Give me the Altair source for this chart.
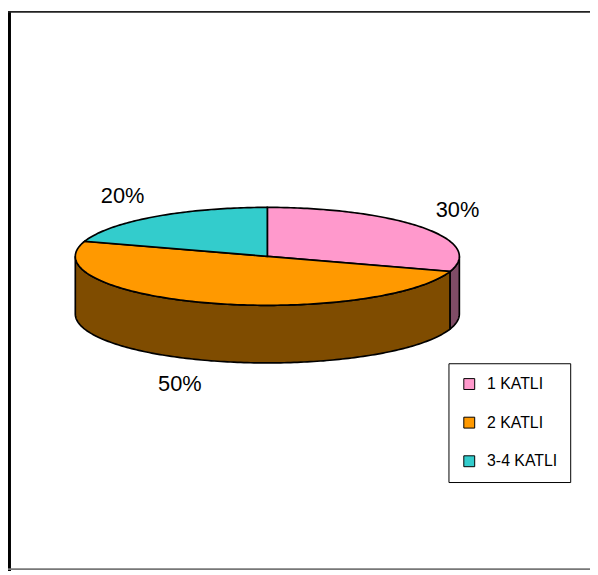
import numpy as np
import pandas as pd
import altair as alt

# ---- data ----
categories = ["1 KATLI", "2 KATLI", "3-4 KATLI"]
shares = [30, 50, 20]
pct_labels = ["30%", "50%", "20%"]

# ---- styling ----
top_colors = ["#FF99CC", "#FF9900", "#33CCCC"]
side_colors = ["#804C66", "#7F4C00", "#1A6666"]

RY = 0.255      # vertical squash of the pie top (rx = 1)
DEPTH = 0.30    # thickness of the pie
STEP = 1.0      # degrees per polygon vertex

W, H = 588, 566
PX = 194        # pixels per unit radius
XD = [-262 / PX, -262 / PX + W / PX]
YD = [248 / PX - H / PX, 248 / PX]

# ---- geometry built from the shares ----
top_rows, side_rows, lab_rows = [], [], []
cum = 0.0
for cat, s, lab, sc in zip(categories, shares, pct_labels, side_colors):
    t0 = cum / 100 * 360
    t1 = (cum + s) / 100 * 360
    cum += s
    # top sector
    i = 0
    top_rows.append(dict(cat=cat, x=0.0, y=0.0, i=i))
    for t in np.arange(t0, t1 + 1e-9, STEP):
        i += 1
        r = np.radians(t)
        top_rows.append(dict(cat=cat, x=np.sin(r), y=np.cos(r) * RY, i=i))
    # visible front wall
    a, b = max(t0, 90.0), min(t1, 270.0)
    if a < b:
        ts = np.arange(a, b + 1e-9, STEP)
        j = 0
        for t in ts:
            r = np.radians(t)
            side_rows.append(dict(cat=cat, col=sc, x=np.sin(r), y=np.cos(r) * RY, i=j))
            j += 1
        for t in ts[::-1]:
            r = np.radians(t)
            side_rows.append(dict(cat=cat, col=sc, x=np.sin(r), y=np.cos(r) * RY - DEPTH, i=j))
            j += 1
    # label position from mid angle
    m = np.radians((t0 + t1) / 2)
    sx, cy = np.sin(m), np.cos(m)
    lx = 1.07 * sx + np.sign(sx) * 0.125
    ly = 1.33 * RY * cy + np.sign(cy) * 0.042 - (DEPTH if cy < 0 else 0)
    lab_rows.append(dict(cat=cat, label=lab, x=lx, y=ly))

top_df = pd.DataFrame(top_rows)
side_df = pd.DataFrame(side_rows)
lab_df = pd.DataFrame(lab_rows)

xenc = alt.X("x:Q", scale=alt.Scale(domain=XD, nice=False, zero=False), axis=None)
yenc = alt.Y("y:Q", scale=alt.Scale(domain=YD, nice=False, zero=False), axis=None)

sides = alt.Chart(side_df).mark_line(
    filled=True, interpolate="linear-closed", stroke="black", strokeWidth=1.7
).encode(
    x=xenc, y=yenc, order="i:Q", detail="cat:N",
    color=alt.Color("col:N", scale=None),
)

tops = alt.Chart(top_df).mark_line(
    filled=True, interpolate="linear-closed", stroke="black", strokeWidth=1.7
).encode(
    x=xenc, y=yenc, order="i:Q",
    color=alt.Color(
        "cat:N",
        scale=alt.Scale(domain=categories, range=top_colors),
        legend=alt.Legend(
            title=None, orient="none", legendX=445, legendY=356,
            strokeColor="black", fillColor="white", padding=13,
            rowPadding=23, symbolType="square", symbolSize=121,
            symbolStrokeColor="black", symbolStrokeWidth=1,
            labelFont="Liberation Sans", labelFontSize=16, labelColor="black",
            labelOffset=10,
        ),
    ),
)

labels = alt.Chart(lab_df).mark_text(
    font="Liberation Sans", fontSize=22, color="black", align="center", baseline="middle"
).encode(x=xenc, y=yenc, text="label:N")

left = alt.Chart().mark_rule(color="black", strokeWidth=3).encode(
    x=alt.value(1.5), y=alt.value(0), y2=alt.value(H))
top = alt.Chart().mark_rule(color="#222", strokeWidth=2).encode(
    y=alt.value(1), x=alt.value(0), x2=alt.value(W))
bottom = alt.Chart().mark_rule(color="#777", strokeWidth=2).encode(
    y=alt.value(H - 2), x=alt.value(0), x2=alt.value(W))

chart = alt.layer(sides, tops, labels, left, top, bottom).resolve_scale(
    color="independent"
).properties(
    width=W, height=H, autosize=alt.AutoSizeParams(type="none"), padding=0,
    background="white",
).configure_view(stroke=None)

chart.save("out.html", embed_options={"renderer": "svg", "actions": False})
